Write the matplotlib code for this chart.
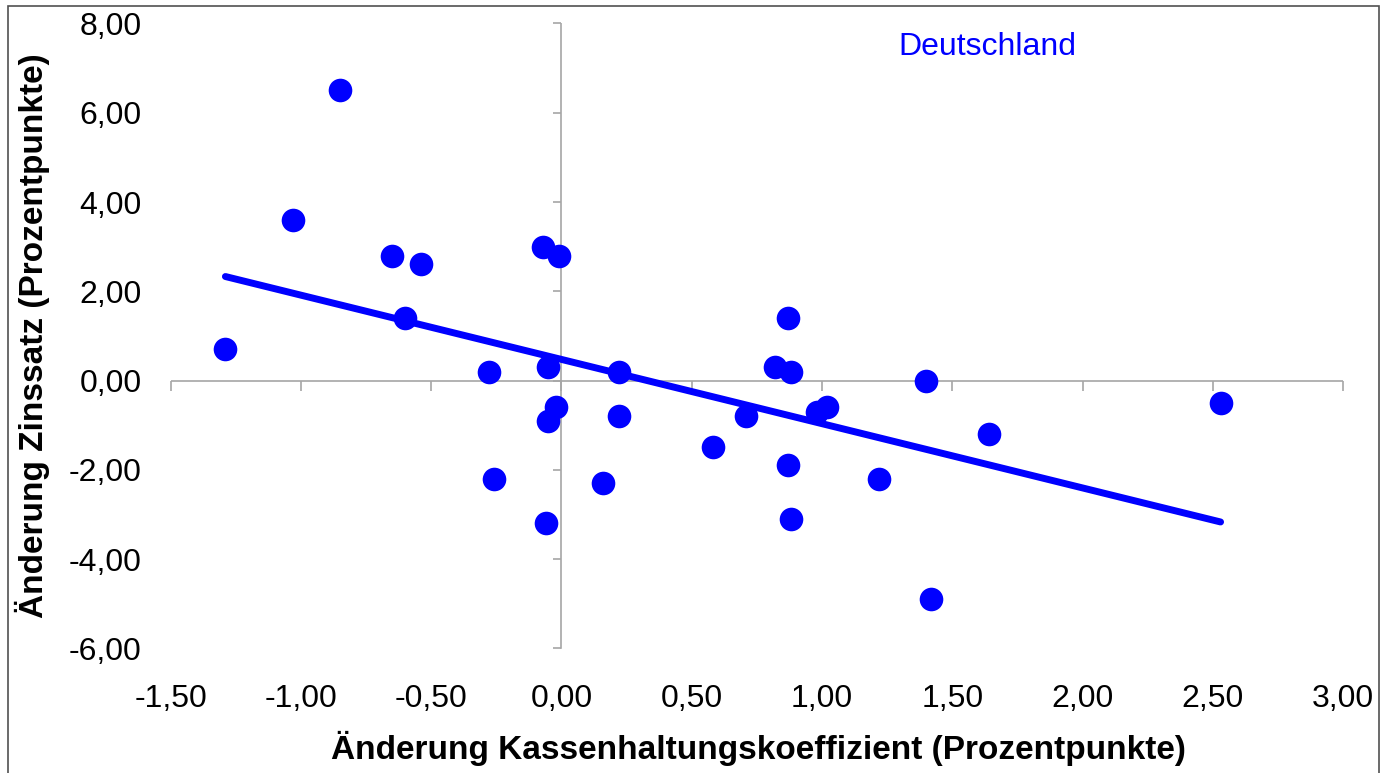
import matplotlib.pyplot as plt
import numpy as np
from matplotlib.patches import Rectangle

# Daten
kassen = [-1.29, -1.03, -0.85, -0.65, -0.54, -0.60, -0.28, -0.26, -0.07, -0.01,
          -0.05, -0.02, -0.05, -0.06, 0.16, 0.22, 0.22, 0.58, 0.71, 0.82,
          0.87, 0.88, 0.87, 0.88, 0.98, 1.02, 1.22, 1.40, 1.42, 1.64, 2.53]
zins = [0.7, 3.6, 6.5, 2.8, 2.6, 1.4, 0.2, -2.2, 3.0, 2.8,
        0.3, -0.6, -0.9, -3.2, -2.3, 0.2, -0.8, -1.5, -0.8, 0.3,
        1.4, 0.2, -1.9, -3.1, -0.7, -0.6, -2.2, 0.0, -4.9, -1.2, -0.5]
trend_x = [-1.29, 2.53]
trend_y = [2.33, -3.17]
xticks = [-1.5, -1.0, -0.5, 0.0, 0.5, 1.0, 1.5, 2.0, 2.5, 3.0]
yticks = [-6, -4, -2, 0, 2, 4, 6, 8]
land = 'Deutschland'

plt.rcParams['font.family'] = ['Liberation Sans', 'DejaVu Sans']
blau = '#0000ff'
grau = '#a6a6a6'

fig = plt.figure(figsize=(13.81, 7.73), dpi=100)
ax = fig.add_axes([0.1236, 0.1325, 0.8489, 0.8371])
ax.set_xlim(-1.5, 3.0)
ax.set_ylim(-6.5, 8.0)
for s in ax.spines.values():
    s.set_visible(False)

fmt = lambda v: f'{v:.2f}'.replace('.', ',')
ax.set_xticks(xticks)
ax.set_xticklabels([fmt(v) for v in xticks])
ax.set_yticks(yticks)
ax.set_yticklabels([fmt(v) for v in yticks])
ax.tick_params(axis='x', length=0, labelsize=23, pad=10)
ax.tick_params(axis='y', length=0, labelsize=23, pad=21)

# Achsenkreuz
ax.axhline(0, color=grau, lw=1.2, zorder=1)
ax.plot([0, 0], [yticks[0], yticks[-1]], color=grau, lw=1.2, zorder=1)
ax.plot(xticks, np.zeros(len(xticks)), ls='none', marker=3, ms=7, mew=1.2,
        color=grau, clip_on=False, zorder=1)
ax.plot(np.zeros(len(yticks)), yticks, ls='none', marker=0, ms=6, mew=1.2,
        color=grau, clip_on=False, zorder=1)

ax.plot(trend_x, trend_y, color=blau, lw=5, solid_capstyle='round', zorder=2)
ax.plot(kassen, zins, 'o', color=blau, ms=17, mec='none', zorder=3)

ax.text(0.6963, 0.9513, land, transform=ax.transAxes, ha='center', va='baseline',
        fontsize=23, color=blau)

ax.set_xlabel('Änderung Kassenhaltungskoeffizient (Prozentpunkte)', fontsize=24,
              fontweight='bold')
ax.xaxis.set_label_coords(0.501, -0.1366)
ax.xaxis.label.set_va('baseline')
ax.set_ylabel('Änderung Zinssatz (Prozentpunkte)', fontsize=24, fontweight='bold')
ax.yaxis.set_label_coords(-0.109, 0.518)
ax.yaxis.label.set_va('baseline')

fig.add_artist(Rectangle((7.5 / 1381, -0.05), (1379 - 7.5) / 1381, 1.05 - 6.5 / 773,
                         transform=fig.transFigure, fill=False, ec='#505050', lw=1.2))

fig.savefig('out.png', dpi=100)
